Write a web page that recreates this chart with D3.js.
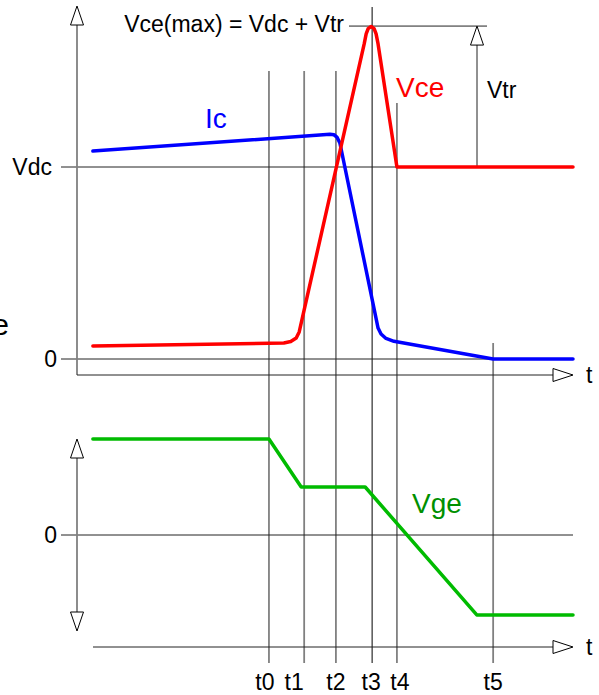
<!DOCTYPE html>
<html><head><meta charset="utf-8">
<script src="https://cdn.jsdelivr.net/npm/d3@7"></script>
<style>body{margin:0;background:#fff}svg{display:block}text{font-family:"Liberation Sans",Arial,sans-serif}</style>
</head><body>
<script>
// ---- data ----
const timeLabels = ["t0","t1","t2","t3","t4","t5"];
const timeMarks  = [38.7, 45.8, 52.2, 59.5, 64.5, 83.9];
const icTime  = [3.2, 51.0, 51.8, 52.4, 53.0, 60.7, 61.3, 62.3, 63.9, 83.9, 100];
const icValue = [1.083, 1.170, 1.168, 1.156, 1.125, 0.161, 0.130, 0.107, 0.092, 0, 0];
const vceTime  = [3.2, 41.7, 43.1, 44.2, 44.8, 57.9, 58.3, 58.7, 59.3, 59.9, 60.3, 60.7, 64.5, 100];
const vceValue = [0.068, 0.083, 0.091, 0.109, 0.141, 1.641, 1.693, 1.721, 1.732, 1.721, 1.693, 1.641, 1.0, 1.0];
const vgeTime  = [3.2, 38.7, 45.2, 58.1, 80.6, 100];
const vgeValue = [1, 1, 0.5, 0.5, -0.833, -0.833];
const vdc = 1, vceMax = 1.734;
const topTicks = [{v:1,label:"Vdc"},{v:0,label:"0"}];
const bottomTicks = [{v:0,label:"0"}];

// ---- layout ----
const W = 599, H = 695;
const svg = d3.select("body").append("svg").attr("width", W).attr("height", H);
const x = d3.scaleLinear().domain([0,100]).range([77,573]);
const yTop = d3.scaleLinear().domain([0,1]).range([359,167]);
const yBot = d3.scaleLinear().domain([0,1]).range([535,439]);
const markTop = [71, 71, 71, 7, 103, 343];
const markBottom = 663;
const labelDx = [-4, -10, 0, -1, 3, 0];
const grey = "#808080";

function arrow(g, tipX, tipY, dir) { // dir: 'up','down','right'
  let p;
  if (dir === "up") p = [[tipX,tipY],[tipX-6.5,tipY+19],[tipX+6.5,tipY+19]];
  else if (dir === "down") p = [[tipX,tipY],[tipX-6.5,tipY-19],[tipX+6.5,tipY-19]];
  else p = [[tipX,tipY],[tipX-20,tipY-6.5],[tipX-20,tipY+6.5]];
  g.append("path").attr("d", d3.line()(p) + "Z").attr("fill","#fff").attr("stroke","#000").attr("stroke-width",1);
}

const g = svg.append("g");

// time marker lines
timeMarks.forEach((t,i) => {
  g.append("line").attr("x1",x(t)).attr("x2",x(t)).attr("y1",markTop[i]).attr("y2",markBottom)
    .attr("stroke", i===3 ? "#000" : grey).attr("stroke-width", i===3 ? 1 : 1.8);
  g.append("text").attr("x", x(t)+labelDx[i]).attr("y", 690).attr("text-anchor","middle")
    .attr("font-size",23).text(timeLabels[i]);
});

// top horizontal reference lines
topTicks.forEach(d => {
  g.append("line").attr("x1",61).attr("x2",x(100)).attr("y1",yTop(d.v)).attr("y2",yTop(d.v))
    .attr("stroke","#222").attr("stroke-width",1);
  g.append("text").attr("x", d.label==="0"?57:52).attr("y", yTop(d.v)+8).attr("text-anchor","end")
    .attr("font-size",23).text(d.label);
});
bottomTicks.forEach(d => {
  g.append("line").attr("x1",61).attr("x2",x(100)).attr("y1",yBot(d.v)).attr("y2",yBot(d.v))
    .attr("stroke","#222").attr("stroke-width",1);
  g.append("text").attr("x",57).attr("y", yBot(d.v)+8).attr("text-anchor","end")
    .attr("font-size",23).text(d.label);
});

// top axes
g.append("line").attr("x1",77).attr("x2",77).attr("y1",20).attr("y2",375).attr("stroke",grey).attr("stroke-width",1.8);
arrow(g, 77, 6, "up");
g.append("line").attr("x1",77).attr("x2",560).attr("y1",375).attr("y2",375).attr("stroke","#222").attr("stroke-width",1);
arrow(g, 573, 375, "right");
g.append("text").attr("x",586).attr("y",383).attr("font-size",23).text("t");

// bottom axes
g.append("line").attr("x1",77).attr("x2",77).attr("y1",450).attr("y2",620).attr("stroke",grey).attr("stroke-width",1.8);
arrow(g, 77, 439, "up");
arrow(g, 77, 631, "down");
g.append("line").attr("x1",93).attr("x2",560).attr("y1",647).attr("y2",647).attr("stroke","#222").attr("stroke-width",1);
arrow(g, 573, 647, "right");
g.append("text").attr("x",586).attr("y",655).attr("font-size",23).text("t");

// Vce(max) annotation
g.append("line").attr("x1",349).attr("x2",487).attr("y1",yTop(vceMax)).attr("y2",yTop(vceMax)).attr("stroke","#222").attr("stroke-width",1);
g.append("line").attr("x1",477).attr("x2",477).attr("y1",yTop(vceMax)+10).attr("y2",yTop(vdc)).attr("stroke","#222").attr("stroke-width",1);
arrow(g, 477, yTop(vceMax), "up");
g.append("text").attr("x",344).attr("y",32).attr("text-anchor","end").attr("font-size",23).text("Vce(max) = Vdc + Vtr");
g.append("text").attr("x",487).attr("y",98).attr("font-size",23).text("Vtr");

// curves
const lineTop = d3.line().x(d=>x(d[0])).y(d=>yTop(d[1]));
const lineBot = d3.line().x(d=>x(d[0])).y(d=>yBot(d[1]));
const zip = (a,b) => a.map((v,i)=>[v,b[i]]);
g.append("path").attr("d", lineTop(zip(icTime,icValue))).attr("fill","none").attr("stroke","#0000ff")
  .attr("stroke-width",3.5).attr("stroke-linejoin","round").attr("stroke-linecap","round");
g.append("path").attr("d", lineTop(zip(vceTime,vceValue))).attr("fill","none").attr("stroke","#ff0000")
  .attr("stroke-width",3.5).attr("stroke-linejoin","round").attr("stroke-linecap","round");
g.append("path").attr("d", lineBot(zip(vgeTime,vgeValue))).attr("fill","none").attr("stroke","#00bb00")
  .attr("stroke-width",3.5).attr("stroke-linejoin","round").attr("stroke-linecap","round");

// series labels
g.append("text").attr("x",205).attr("y",128).attr("font-size",28).attr("fill","#0000ff").text("Ic");
g.append("text").attr("x",396).attr("y",97).attr("font-size",28).attr("fill","#ff0000").text("Vce");
g.append("text").attr("x",412).attr("y",513).attr("font-size",28).attr("fill","#009000").text("Vge");
g.append("text").attr("x",9).attr("y",335).attr("text-anchor","end").attr("font-size",30).text("Ic, Vce");
</script>
</body></html>
